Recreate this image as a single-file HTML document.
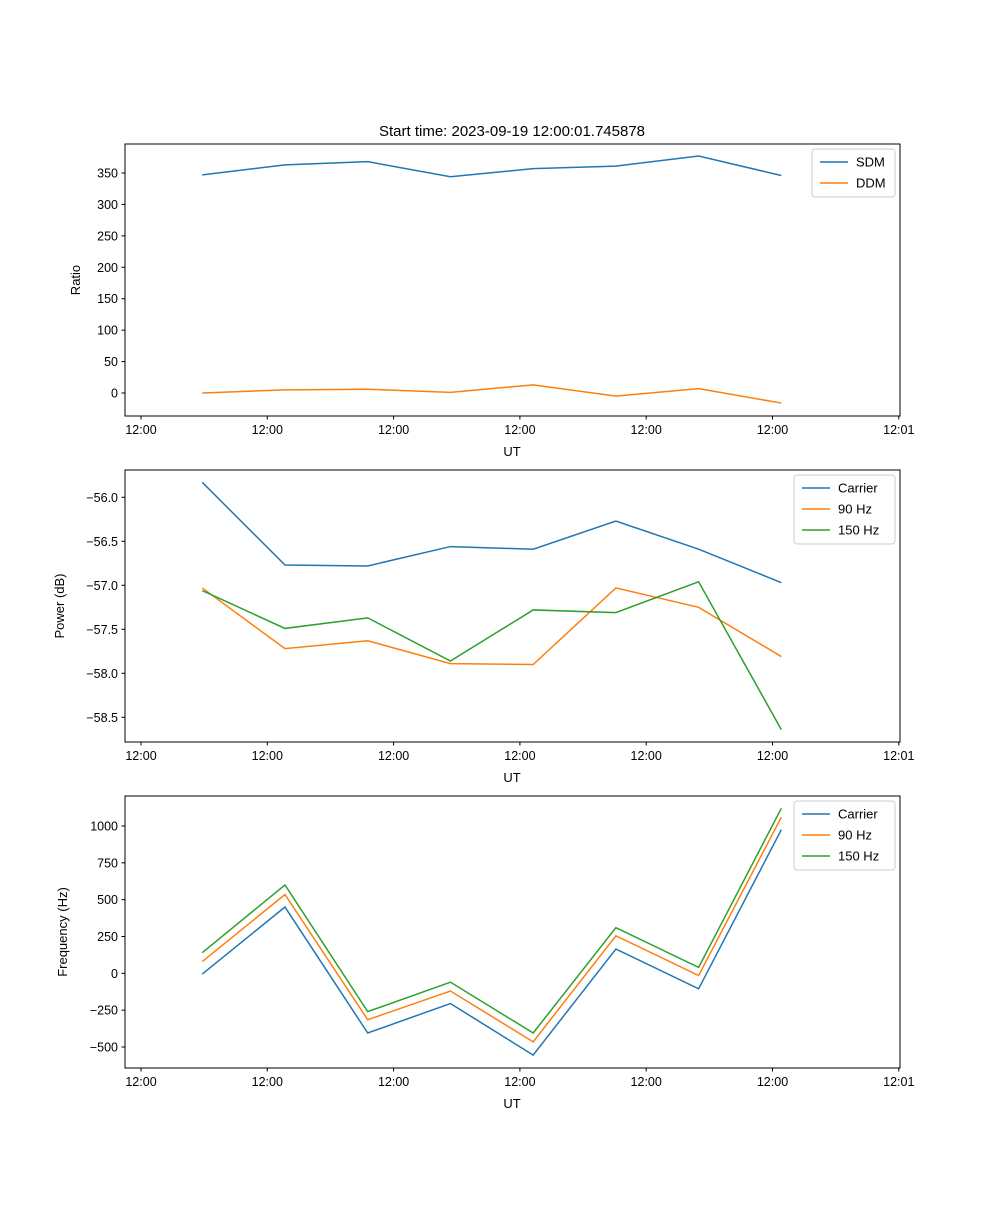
<!DOCTYPE html>
<html><head><meta charset="utf-8"><style>
body{margin:0;background:#fff;}
svg{font-family:"Liberation Sans","DejaVu Sans",sans-serif;}
</style></head><body>
<svg id="fig" width="1000" height="1200" xmlns="http://www.w3.org/2000/svg">
<text x="512" y="136" font-size="15" text-anchor="middle">Start time: 2023-09-19 12:00:01.745878</text>
</svg>
<script>
const times = [4.85, 11.4, 17.95, 24.5, 31.05, 37.6, 44.15, 50.7];
const xTickVals = [0, 10, 20, 30, 40, 50, 60];
const xTickLabels = ["12:00","12:00","12:00","12:00","12:00","12:00","12:01"];
const sdm = [347, 363, 368, 344, 357, 361, 377, 346];
const ddm = [0, 5, 6, 1, 13, -5, 7, -16];
const pwrCarrier = [-55.83, -56.77, -56.78, -56.56, -56.59, -56.27, -56.59, -56.97];
const pwr90 = [-57.03, -57.72, -57.63, -57.89, -57.90, -57.03, -57.25, -57.81];
const pwr150 = [-57.06, -57.49, -57.37, -57.86, -57.28, -57.31, -56.96, -58.64];
const frqCarrier = [-5, 450, -405, -205, -555, 165, -105, 975];
const frq90 = [80, 535, -315, -120, -465, 255, -15, 1060];
const frq150 = [140, 600, -260, -60, -405, 310, 40, 1120];
const ticks1 = [0,50,100,150,200,250,300,350];
const ticks2 = [-56.0,-56.5,-57.0,-57.5,-58.0,-58.5];
const ticks3 = [-500,-250,0,250,500,750,1000];

const NS="http://www.w3.org/2000/svg";
const svg=document.getElementById('fig');
function mk(tag,attrs,parent){const e=document.createElementNS(NS,tag);for(const k in attrs)e.setAttribute(k,attrs[k]);(parent||svg).appendChild(e);return e;}
const L=125,R=900;
const xs=t=>141+t*12.63;
const C=["#1f77b4","#ff7f0e","#2ca02c"];

function panel(name,top,bot,v0,p0,v1,p1,ticks,fmt,ylabel,ylabX,series,labels,legW){
  const g=mk('g',{});
  
  
  const ys=v=>p0+(v-v0)*(p1-p0)/(v1-v0);
  series.forEach((s,i)=>{
    const p=mk('polyline',{points:s.map((v,j)=>xs(times[j])+','+ys(v)).join(' '),fill:'none',stroke:C[i],'stroke-width':1.5},g);
    
    
  });
  mk('rect',{x:L,y:top,width:R-L,height:bot-top,fill:'none',stroke:'#000','stroke-width':1},g);
  ticks.forEach(v=>{
    const y=ys(v);
    mk('line',{x1:L-3.5,x2:L,y1:y,y2:y,stroke:'#000'},g);
    const t=mk('text',{x:L-7,y:y+4.5,'font-size':12.5,'text-anchor':'end'},g);
    t.textContent=fmt(v);
    
    
  });
  xTickVals.forEach((v,i)=>{
    const x=xs(v);
    mk('line',{x1:x,x2:x,y1:bot,y2:bot+3.5,stroke:'#000'},g);
    const t=mk('text',{x:x,y:bot+18,'font-size':12.5,'text-anchor':'middle'},g);
    t.textContent=xTickLabels[i];
    
    
  });
  const xl=mk('text',{x:512,y:bot+40,'font-size':13,'text-anchor':'middle'},g);
  xl.textContent='UT';
  
  
  const yl=mk('text',{x:ylabX,y:(top+bot)/2,'font-size':13,'text-anchor':'middle',transform:`rotate(-90 ${ylabX} ${(top+bot)/2})`},g);
  yl.textContent=ylabel;
  
  
  const lx=R-5-legW, ly=top+5, lh=labels.length*21+6;
  const lg=mk('g',{},g);
  
  
  mk('rect',{x:lx,y:ly,width:legW,height:lh,rx:3,fill:'#fff',stroke:'#ccc'},lg);
  labels.forEach((lab,i)=>{
    const yy=ly+13+i*21;
    mk('line',{x1:lx+8,x2:lx+36,y1:yy,y2:yy,stroke:C[i],'stroke-width':1.5},lg);
    const t=mk('text',{x:lx+44,y:yy+4.5,'font-size':13},lg);
    t.textContent=lab;
    
    
  });
}
const minus=s=>s.replace('-','\u2212');
panel('ratio-panel',144,416,0,393,350,173,ticks1,v=>minus(String(v)),'Ratio',80,[sdm,ddm],['SDM','DDM'],83);
panel('power-panel',470,742,-56,497.3,-58.5,717.3,ticks2,v=>minus(v.toFixed(1)),'Power (dB)',64,[pwrCarrier,pwr90,pwr150],['Carrier','90 Hz','150 Hz'],101);
panel('frequency-panel',796,1068,1000,826,-500,1047,ticks3,v=>minus(String(v)),'Frequency (Hz)',67,[frqCarrier,frq90,frq150],['Carrier','90 Hz','150 Hz'],101);
</script>
</body></html>
